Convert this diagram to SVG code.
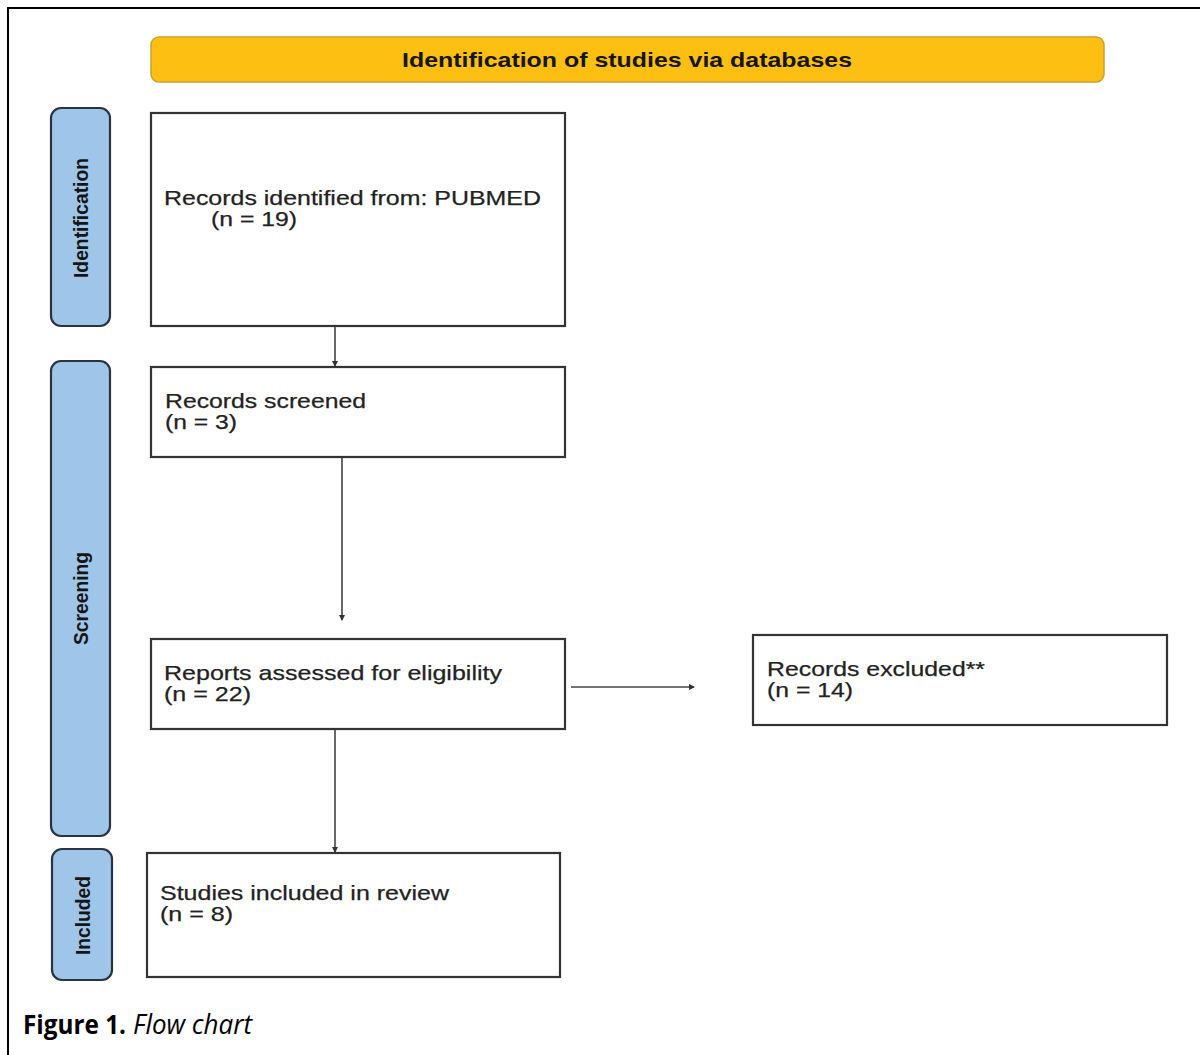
<svg xmlns="http://www.w3.org/2000/svg" width="1200" height="1055" viewBox="0 0 1200 1055">
<style>
.frame{stroke:#000;stroke-width:2;fill:none}
.box{fill:#fff;stroke:#333;stroke-width:2.2}
.side{fill:#9fc5e8;stroke:#2a3440;stroke-width:2.2}
.banner{fill:#fdbf12;stroke:#c9a12a;stroke-width:1.5}
.t{font-family:"Liberation Sans",Arial,sans-serif;font-size:21px;fill:#222;stroke:#222;stroke-width:0.25}
.sl{font-family:"Liberation Sans",Arial,sans-serif;font-size:21px;font-weight:bold;fill:#151515}
.title{font-family:"Liberation Sans",Arial,sans-serif;font-size:21px;font-weight:bold;fill:#151515}
.cap{font-family:"Open Sans","Liberation Sans",sans-serif;font-size:27px;fill:#000}
.conn{stroke:#444;stroke-width:1.6;fill:none}
</style>
<defs>
<marker id="ah" viewBox="0 0 6 6" refX="5" refY="3" markerWidth="4" markerHeight="4" orient="auto" markerUnits="strokeWidth">
<path d="M0,0 L6,3 L0,6 z" fill="#333"/>
</marker>
</defs>
<rect width="1200" height="1055" fill="#fff"/>
<path class="frame" d="M8,1055 V8 H1200"/>

<g id="banner">
<rect class="banner" x="151" y="37" width="953" height="45" rx="8"/>
<text class="title" x="402" y="67" textLength="450" lengthAdjust="spacingAndGlyphs">Identification of studies via databases</text>
</g>

<g id="phase-identification">
<rect class="side" x="51" y="108" width="59" height="218" rx="10"/>
<text class="sl" transform="translate(88,278) rotate(-90)" textLength="120" lengthAdjust="spacingAndGlyphs">Identification</text>
</g>
<g id="phase-screening">
<rect class="side" x="51" y="361" width="59" height="475" rx="10"/>
<text class="sl" transform="translate(88,645) rotate(-90)" textLength="93" lengthAdjust="spacingAndGlyphs">Screening</text>
</g>
<g id="phase-included">
<rect class="side" x="52" y="849" width="60" height="131" rx="10"/>
<text class="sl" transform="translate(90,955) rotate(-90)" textLength="79" lengthAdjust="spacingAndGlyphs">Included</text>
</g>

<g id="connectors">
<line class="conn" x1="335" y1="321" x2="335" y2="366" marker-end="url(#ah)"/>
<line class="conn" x1="342" y1="458" x2="342" y2="620" marker-end="url(#ah)"/>
<line class="conn" x1="571" y1="687" x2="694" y2="687" marker-end="url(#ah)"/>
<line class="conn" x1="335" y1="729" x2="335" y2="852" marker-end="url(#ah)"/>
</g>

<g id="node-identified">
<rect class="box" x="151" y="113" width="414" height="213"/>
<text class="t" x="164" y="205" textLength="377" lengthAdjust="spacingAndGlyphs">Records identified from: PUBMED</text>
<text class="t" x="211" y="226" textLength="86" lengthAdjust="spacingAndGlyphs">(n = 19)</text>
</g>
<g id="node-screened">
<rect class="box" x="151" y="367" width="414" height="90"/>
<text class="t" x="165" y="408" textLength="201" lengthAdjust="spacingAndGlyphs">Records screened</text>
<text class="t" x="165" y="429" textLength="72" lengthAdjust="spacingAndGlyphs">(n = 3)</text>
</g>
<g id="node-assessed">
<rect class="box" x="151" y="639" width="414" height="90"/>
<text class="t" x="164" y="680" textLength="338" lengthAdjust="spacingAndGlyphs">Reports assessed for eligibility</text>
<text class="t" x="164" y="701" textLength="87" lengthAdjust="spacingAndGlyphs">(n = 22)</text>
</g>
<g id="node-excluded">
<rect class="box" x="753" y="635" width="414" height="90"/>
<text class="t" x="767" y="676" textLength="218" lengthAdjust="spacingAndGlyphs">Records excluded**</text>
<text class="t" x="767" y="697" textLength="86" lengthAdjust="spacingAndGlyphs">(n = 14)</text>
</g>
<g id="node-included">
<rect class="box" x="147" y="853" width="413" height="124"/>
<text class="t" x="160" y="900" textLength="289" lengthAdjust="spacingAndGlyphs">Studies included in review</text>
<text class="t" x="160" y="921" textLength="73" lengthAdjust="spacingAndGlyphs">(n = 8)</text>
</g>

<g id="caption">
<text class="cap" x="23" y="1034" font-weight="bold" textLength="103" lengthAdjust="spacingAndGlyphs">Figure 1.</text>
<text class="cap" x="133" y="1034" font-style="italic" textLength="119" lengthAdjust="spacingAndGlyphs">Flow chart</text>
</g>
</svg>
